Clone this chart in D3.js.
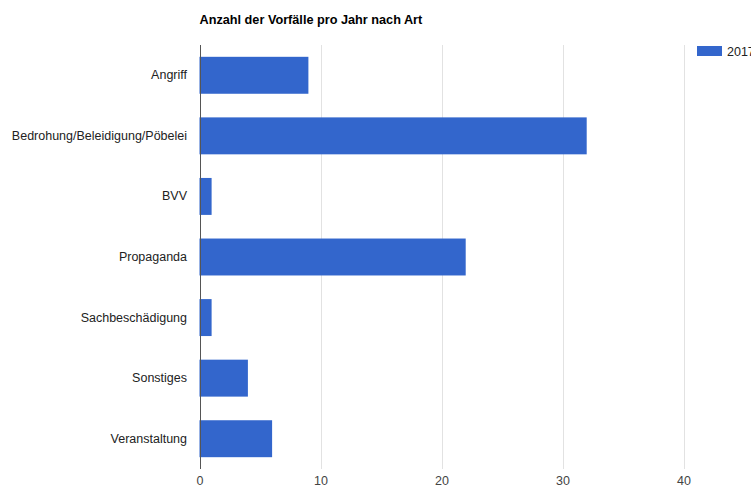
<!DOCTYPE html>
<html lang="de">
<head>
<meta charset="utf-8">
<script src="https://d3js.org/d3.v7.min.js"></script>
<style>
  body { margin: 0; background: #fff; }
  svg { display: block; font-family: "Liberation Sans", Arial, sans-serif; }
</style>
</head>
<body>
<script>
// data
const categories = ["Angriff", "Bedrohung/Beleidigung/Pöbelei", "BVV", "Propaganda",
                    "Sachbeschädigung", "Sonstiges", "Veranstaltung"];
const values2017 = [9, 32, 1, 22, 1, 4, 6];
const xTicks = [0, 10, 20, 30, 40, 50];
const seriesName = "2017";
const title = "Anzahl der Vorfälle pro Jahr nach Art";

const W = 751, H = 485;
const plotLeft = 199.5, plotTop = 45, plotBottom = 469;

const svg = d3.select("body").append("svg")
    .attr("width", W)
    .attr("height", H);

// scales
const x = d3.scaleLinear().domain([0, 50]).range([plotLeft, plotLeft + 605]);
const y = d3.scaleBand()
    .domain(categories)
    .range([plotTop, plotBottom])
    .paddingInner(0.39)
    .paddingOuter(0.195);

// gridlines
svg.append("g")
  .selectAll("line")
  .data(xTicks.filter(d => d > 0))
  .join("line")
    .attr("x1", d => Math.round(x(d)) + 0.5)
    .attr("x2", d => Math.round(x(d)) + 0.5)
    .attr("y1", plotTop)
    .attr("y2", plotBottom)
    .attr("stroke", "#e2e2e2")
    .attr("stroke-width", 1);

// bars
svg.append("g")
  .selectAll("rect")
  .data(categories)
  .join("rect")
    .attr("x", x(0))
    .attr("y", d => y(d))
    .attr("width", (d, i) => x(values2017[i]) - x(0))
    .attr("height", y.bandwidth())
    .attr("fill", "#3366cc");

// baseline
svg.append("line")
    .attr("x1", Math.round(x(0)) + 0.5)
    .attr("x2", Math.round(x(0)) + 0.5)
    .attr("y1", plotTop)
    .attr("y2", plotBottom)
    .attr("stroke", "#555")
    .attr("stroke-width", 1);

// category labels
const yAxis = svg.append("g")
    .attr("transform", "translate(" + (plotLeft - 12.5) + ",0)")
    .call(d3.axisLeft(y).tickSize(0).tickPadding(0));
yAxis.select(".domain").remove();
yAxis.selectAll("text")
    .attr("font-size", 12.5)
    .attr("font-family", "Liberation Sans, Arial, sans-serif")
    .attr("fill", "#222");

// x tick labels
const xAxis = svg.append("g")
    .attr("transform", "translate(0," + (plotBottom + 4) + ")")
    .call(d3.axisBottom(x).tickValues(xTicks).tickSize(0).tickPadding(0).tickFormat(d3.format("d")));
xAxis.select(".domain").remove();
xAxis.selectAll("text")
    .attr("dy", "0.95em")
    .attr("font-size", 12.5)
    .attr("font-family", "Liberation Sans, Arial, sans-serif")
    .attr("fill", "#444");

// title
svg.append("text")
    .attr("x", 199.5)
    .attr("y", 24)
    .attr("font-size", 12.7)
    .attr("font-weight", "bold")
    .attr("fill", "#000")
    .text(title);

// legend
svg.append("rect")
    .attr("x", 697)
    .attr("y", 46)
    .attr("width", 25)
    .attr("height", 10)
    .attr("fill", "#3366cc");
svg.append("text")
    .attr("x", 727)
    .attr("y", 56)
    .attr("font-size", 12.5)
    .attr("fill", "#222")
    .text(seriesName);
</script>
</body>
</html>
